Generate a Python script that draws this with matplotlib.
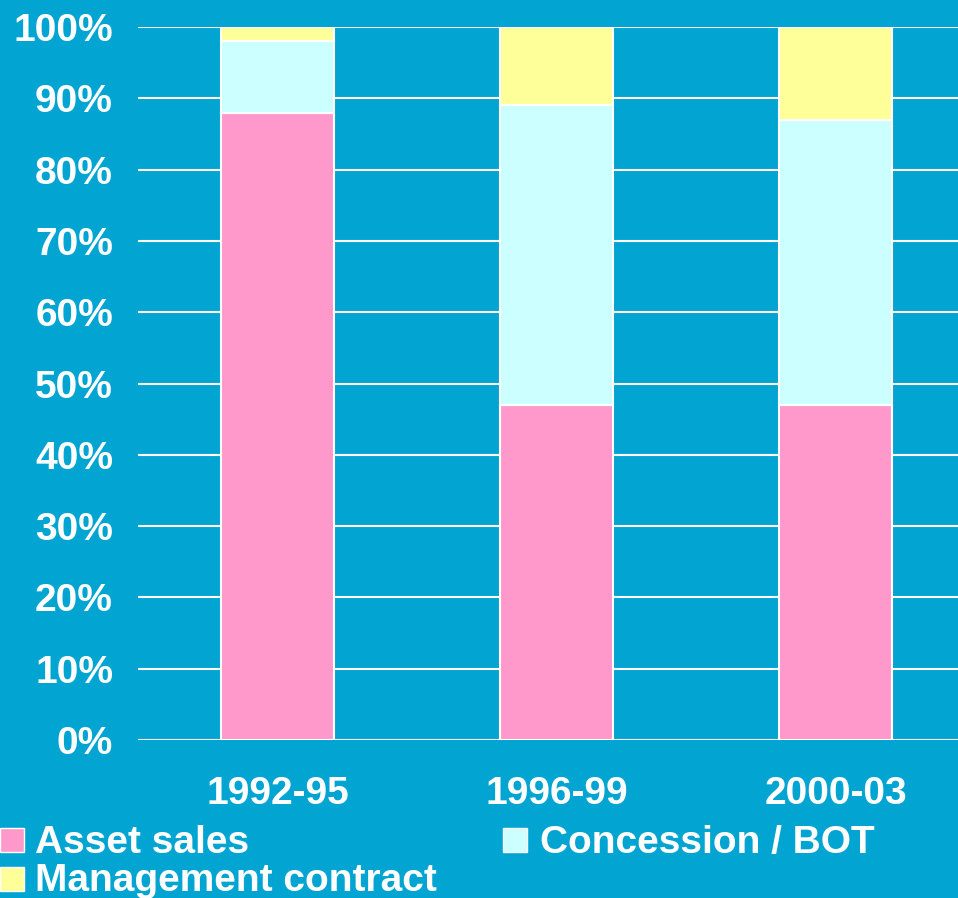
import matplotlib.pyplot as plt
from matplotlib.patches import Rectangle
import numpy as np

# data (percent of total)
periods = ['1992-95', '1996-99', '2000-03']
asset_sales = [88, 47, 47]
concession_bot = [10, 42, 40]
management = [2, 11, 13]
series_names = ['Asset sales', 'Concession / BOT', 'Management contract']
series_colors = ['#FF99CC', '#CCFFFF', '#FFFF99']
yticks = np.arange(0, 101, 10)

bg = '#02A5D2'
W, H = 958, 898
plt.rcParams['font.family'] = ['Liberation Sans', 'DejaVu Sans']
plt.rcParams['font.weight'] = 'bold'

fig = plt.figure(figsize=(W / 100, H / 100), dpi=100, facecolor=bg)
ax = fig.add_axes([138 / W, (H - 740) / H, (W - 138) / W, (740 - 27) / H])
ax.set_facecolor(bg)

x = np.arange(len(periods))
bottom = np.zeros(len(periods))
for vals, col in zip([asset_sales, concession_bot, management], series_colors):
    ax.bar(x, vals, width=0.405, bottom=bottom, color=col,
           edgecolor='white', linewidth=1.5, zorder=3)
    bottom += np.array(vals)

ax.set_ylim(0, 100)
ax.set_xlim(-0.5, -0.5 + 820 / 279)
ax.set_yticks(yticks)
ax.set_yticklabels([f'{v}%' for v in yticks])
ax.set_xticks(x)
ax.set_xticklabels(periods)
ax.tick_params(axis='y', length=0, pad=18, labelsize=28, labelcolor='white')
ax.tick_params(axis='x', length=0, pad=26, labelsize=28, labelcolor='white')
for lbl in ax.get_xticklabels() + ax.get_yticklabels():
    lbl.set_fontweight('bold')
ax.grid(axis='y', color='white', linewidth=1.5, zorder=0)
ax.set_axisbelow(True)
for s in ax.spines.values():
    s.set_visible(False)

# legend drawn by hand (pixel layout of the original)
legend_pos = [(0, 828, 35, 853), (503, 828, 540, 853), (0, 867, 35, 891)]
for name, col, (sx, sy, tx, ty) in zip(series_names, series_colors, legend_pos):
    fig.add_artist(Rectangle((sx / W, (H - sy - 24) / H), 24 / W, 24 / H,
                             transform=fig.transFigure, facecolor=col,
                             edgecolor='white', linewidth=1))
    fig.text(tx / W, (H - ty) / H, name, color='white', fontsize=28,
             fontweight='bold', ha='left', va='baseline')

fig.savefig('out.png', dpi=100, facecolor=bg)
